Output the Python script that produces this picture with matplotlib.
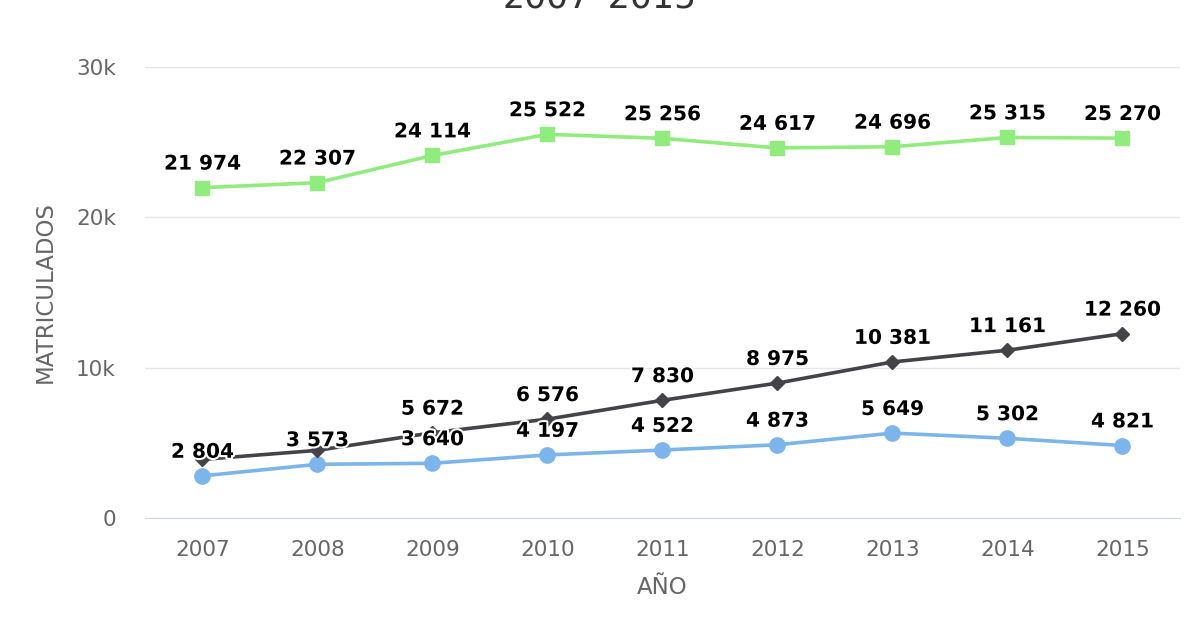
import numpy as np
import matplotlib.pyplot as plt
import matplotlib.patheffects as pe

plt.rcParams['font.family'] = ['DejaVu Sans']

years = ['2007', '2008', '2009', '2010', '2011', '2012', '2013', '2014', '2015']
serie_azul = [2804, 3573, 3640, 4197, 4522, 4873, 5649, 5302, 4821]
serie_negra = [3900, 4500, 5672, 6576, 7830, 8975, 10381, 11161, 12260]
serie_verde = [21974, 22307, 24114, 25522, 25256, 24617, 24696, 25315, 25270]
# labels hidden in the original (overlap)
ocultos_negra = [0, 1]

def fmt(v):
    return f'{v:,}'.replace(',', ' ')

fig = plt.figure(figsize=(12, 6.4), dpi=100)
ax = fig.add_axes([0.1208, 0.1906, 0.8625, 0.7047])

x = np.arange(len(years))
stroke = [pe.withStroke(linewidth=3, foreground='white')]

series = [
    (serie_azul, '#7cb5ec', 'o', 11, []),
    (serie_negra, '#434348', 'D', 7, ocultos_negra),
    (serie_verde, '#90ed7d', 's', 10.5, []),
]
for vals, col, mk, ms, hidden in series:
    ax.plot(x, vals, color=col, lw=2.6, marker=mk, markersize=ms,
            markeredgecolor=col, zorder=3)
    for i, v in enumerate(vals):
        if i in hidden:
            continue
        ax.annotate(fmt(v), (x[i], v), xytext=(0, 17), textcoords='offset points',
                    ha='center', va='center', fontsize=14.5, fontweight='bold',
                    color='black', path_effects=stroke, zorder=5)

ax.set_xlim(-0.5, len(years) - 0.5)
ax.set_ylim(0, 30000)
ax.set_yticks([0, 10000, 20000, 30000])
ax.set_yticklabels(['0', '10k', '20k', '30k'])
ax.set_xticks(x)
ax.set_xticklabels(years)
ax.grid(axis='y', color='#e6e6e6', lw=1)
ax.set_axisbelow(True)
for s in ['top', 'right', 'left']:
    ax.spines[s].set_visible(False)
ax.spines['bottom'].set_color('#ccd6eb')
ax.tick_params(axis='both', length=0, colors='#666666', labelsize=15.5)
ax.tick_params(axis='x', pad=15.5)
ax.tick_params(axis='y', pad=21)
ax.set_xlabel('AÑO', fontsize=16.5, color='#666666', labelpad=12)
ax.set_ylabel('MATRICULADOS', fontsize=16.5, color='#666666', labelpad=14)

fig.text(0.5, 1.004, '2007–2015', ha='center', va='center', fontsize=25, color='#333333')

fig.savefig('out.png', dpi=100)
